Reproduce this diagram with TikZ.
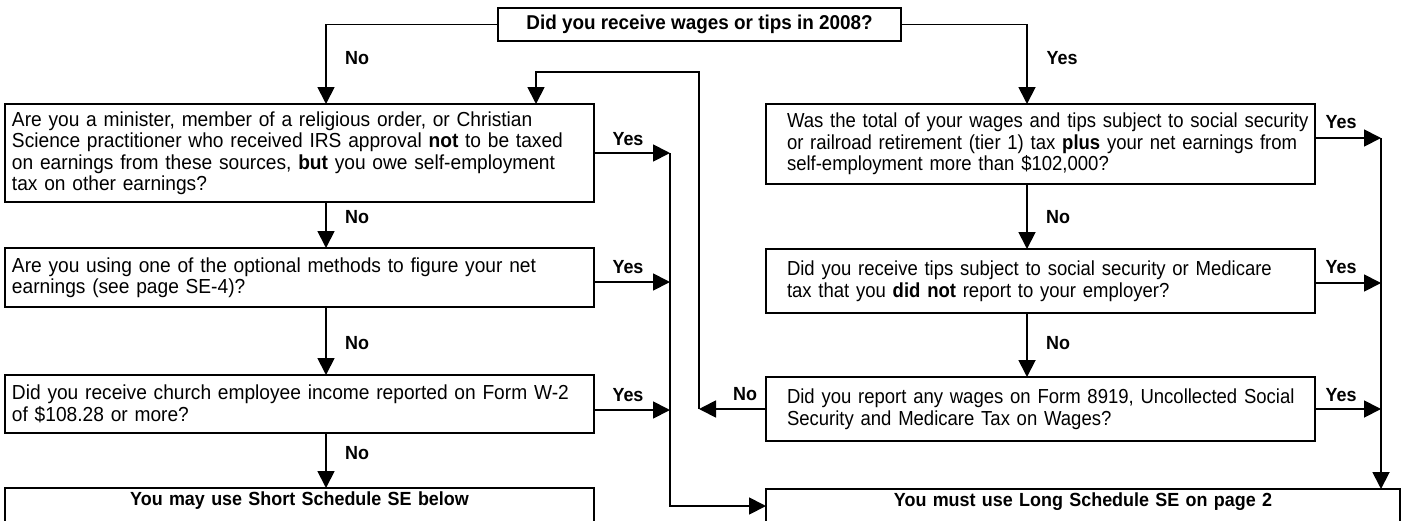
\documentclass[tikz,border=0pt]{standalone}
\usepackage{fontspec}
\setmainfont{Liberation Sans}[FakeStretch=0.944]
\newfontfamily\rfont{Liberation Sans}[FakeStretch=0.912]
\usetikzlibrary{arrows.meta,calc}
\newcommand\padL{\leftskip=7pt\relax\hyphenpenalty=10000\relax}
\newcommand\padR{\leftskip=21pt\relax\hyphenpenalty=10000\relax}
\begin{document}
\begin{tikzpicture}[x=1pt,y=-1pt,
  every node/.style={inner sep=0pt,outer sep=0pt},
  box/.style={draw,line width=1.8pt,rectangle,anchor=north west},
  lbox/.style={box,text width=589pt,inner ysep=2pt,align=left,
    font=\fontsize{20.3}{21.5}\selectfont},
  rbox/.style={box,text width=549pt,inner ysep=2pt,align=left,
    font=\rfont\fontsize{20.3}{21.5}\selectfont},
  endbox/.style={box,align=center,text height=14pt,text depth=24pt,inner ysep=3pt,
    font=\bfseries\fontsize{19}{20}\selectfont},
  lbl/.style={font=\bfseries\fontsize{19}{20}\selectfont},
  ln/.style={line width=1.8pt},
  arr/.style={ln,-{Triangle[length=17pt,width=17pt]}}]
\path[use as bounding box,clip] (0,0) rectangle (1407,520);

% boxes
\node[draw,line width=1.8pt,minimum width=403pt,minimum height=33pt,
  font=\bfseries\fontsize{20}{21}\selectfont] (top) at (699.5,24.5)
  {Did you receive wages or tips in 2008?};
\node[lbox,minimum height=98pt] (q1) at (5,104)
  {\padL Are you a minister, member of a religious order, or Christian\\
   Science practitioner who received IRS approval \textbf{not} to be taxed\\
   on earnings from these sources, \textbf{but} you owe self-employment\\
   tax on other earnings?\par};
\node[lbox,minimum height=59pt] (q2) at (5,248)
  {\padL Are you using one of the optional methods to figure your net\\
   earnings (see page SE-4)?\par};
\node[lbox,minimum height=58pt] (q3) at (5,375)
  {\padL Did you receive church employee income reported on Form W-2\\
   of \$108.28 or more?\par};
\node[endbox,text width=589pt] (short) at (5,488) {You may use Short Schedule SE below};
\node[rbox,minimum height=80pt] (r1) at (766,104)
  {\padR Was the total of your wages and tips subject to social security\\
   or railroad retirement (tier 1) tax \textbf{plus} your net earnings from\\
   self-employment more than \$102,000?\par};
\node[rbox,minimum height=64pt] (r2) at (766,249)
  {\padR Did you receive tips subject to social security or Medicare\\
   tax that you \textbf{did not} report to your employer?\par};
\node[rbox,minimum height=64pt] (r3) at (766,377)
  {\padR Did you report any wages on Form 8919, Uncollected Social\\
   Security and Medicare Tax on Wages?\par};
\node[endbox,text width=634pt] (long) at (766,489) {You must use Long Schedule SE on page 2};

% helper coordinates
\coordinate (lx) at (326,0);
\coordinate (rx) at (1027,0);
\coordinate (mx) at (670,0);
\coordinate (fx) at (699,0);
\coordinate (qx) at (536,0);
\coordinate (ex) at (1381,0);
\coordinate (fy) at (0,72);
\coordinate (q2y) at ($(q2.east)+(0,4.5)$);
\coordinate (q3y) at ($(q3.east)+(0,6)$);
\coordinate (r1y) at ($(r1.east)+(0,-6)$);
\coordinate (r2y) at ($(r2.east)+(0,2)$);
\coordinate (lgy) at ($(long.north west)+(0,17)$);

% connectors
\draw[arr] (top.west) -| (q1.north -| lx);
\draw[arr] (top.east) -| (r1.north -| rx);
\draw[arr] (q1.south -| lx) -- (q2.north -| lx);
\draw[arr] (q2.south -| lx) -- (q3.north -| lx);
\draw[arr] (q3.south -| lx) -- (short.north -| lx);
\draw[arr] (r1.south -| rx) -- (r2.north -| rx);
\draw[arr] (r2.south -| rx) -- (r3.north -| rx);
\draw[arr] (q1.east) -- (q1.east -| mx);
\draw[arr] (q2y) -- (q2y -| mx);
\draw[arr] (q3y) -- (q3y -| mx);
\draw[arr] (q1.east -| mx) |- (lgy);
\draw[arr] (r1y) -- (r1y -| ex);
\draw[arr] (r2y) -- (r2y -| ex);
\draw[arr] (r3.east) -- (r3.east -| ex);
\draw[arr] (r1y -| ex) -- (long.north -| ex);
\draw[arr] (r3.west) -- (r3.west -| fx);
\draw[arr] (r3.west -| fx) |- (fy -| qx) -- (q1.north -| qx);

% labels
\node[lbl] (noA) at (357,58) {No};
\node[lbl] (yesA) at (1062,58) {Yes};
\node[lbl] (yes1) at (628,139) {Yes};
\node[lbl] (no1) at (357,217) {No};
\node[lbl] (yes2) at (628,267) {Yes};
\node[lbl] (no2) at (357,343) {No};
\node[lbl] (yes3) at (628,395) {Yes};
\node[lbl] (no3) at (357,453) {No};
\node[lbl] (ryes1) at (1341,122) {Yes};
\node[lbl] (rno1) at (1058,217) {No};
\node[lbl] (ryes2) at (1341,267) {Yes};
\node[lbl] (rno2) at (1058,343) {No};
\node[lbl] (ryes3) at (1341,395) {Yes};
\node[lbl] (rno3) at (745,394) {No};
\end{tikzpicture}
\end{document}
